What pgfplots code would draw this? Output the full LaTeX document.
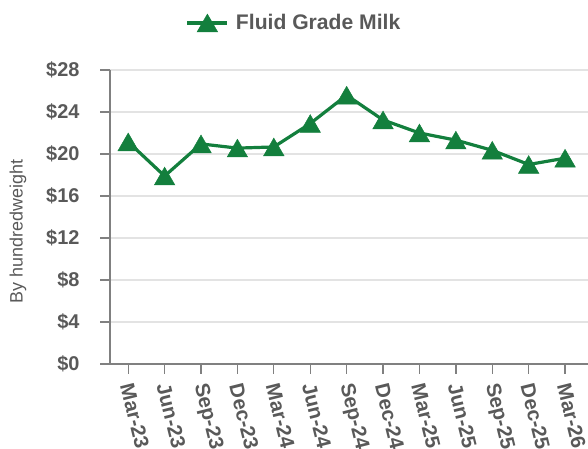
\documentclass[border=0pt]{standalone}
\usepackage{pgfplots}
\pgfplotsset{compat=1.18}
\usepackage{fontspec}
\setmainfont{Liberation Sans}
\definecolor{milkgreen}{HTML}{137F3D}
\definecolor{txtgray}{HTML}{595959}
\definecolor{gridgray}{HTML}{E3E3E3}
\definecolor{axgray}{HTML}{808080}
\begin{document}
\begin{tikzpicture}[x=1bp,y=1bp]
\path[use as bounding box] (0,0) rectangle (588,449);
\clip (0,0) rectangle (588,449);
\begin{axis}[
  at={(110bp,85bp)}, anchor=south west,
  scale only axis, width=478bp, height=294bp,
  xmin=-0.5, xmax=12.63, ymin=0, ymax=28,
  xtick={0,...,12},
  xticklabels={Mar-23,Jun-23,Sep-23,Dec-23,Mar-24,Jun-24,Sep-24,Dec-24,Mar-25,Jun-25,Sep-25,Dec-25,Mar-26},
  ytick={0,4,8,12,16,20,24,28},
  yticklabels={\$0,\$4,\$8,\$12,\$16,\$20,\$24,\$28},
  x tick label style={xshift=-2bp, yshift=-8bp, rotate=-76, anchor=west, font=\bfseries\fontsize{20.5}{20.5}\selectfont, text=txtgray, inner sep=2bp},
  y tick label style={xshift=-17bp, font=\bfseries\fontsize{20}{20}\selectfont, text=txtgray},
  axis x line*=bottom, axis y line*=left,
  axis line style={-, axgray, line width=1.5bp},
  ymajorgrids, grid style={gridgray, line width=1.3bp},
  tick style={axgray, line width=1.3bp},
  tick align=outside, major tick length=10bp,
  ylabel={By hundredweight},
  ylabel style={at={(axis description cs:-0.1925,0.45)}, anchor=center, font=\fontsize{18}{18}\selectfont, text=txtgray},
  legend style={at={(axis description cs:0.385,1.16)}, anchor=center, draw=none, fill=none,
    font=\bfseries\fontsize{21.2}{22}\selectfont, text=txtgray,
    /tikz/every odd column/.append style={column sep=5bp}},
  legend image code/.code={\draw[mark repeat=2,mark phase=2,#1] plot coordinates {(0bp,0bp)(20bp,0bp)(40bp,0bp)};},
  clip=false,
]
\addplot[milkgreen, line width=3.2bp, mark=triangle*, mark size=11.8bp, mark options={solid, yshift=-2.95bp, fill=milkgreen, line width=0.5bp}]
coordinates {
(0,21.15) (1,17.9) (2,20.96) (3,20.56) (4,20.67) (5,22.9) (6,25.6) (7,23.24) (8,22.0) (9,21.32) (10,20.35) (11,19.0) (12,19.6)
};
\addlegendentry{Fluid Grade Milk}
\end{axis}
\end{tikzpicture}
\end{document}
